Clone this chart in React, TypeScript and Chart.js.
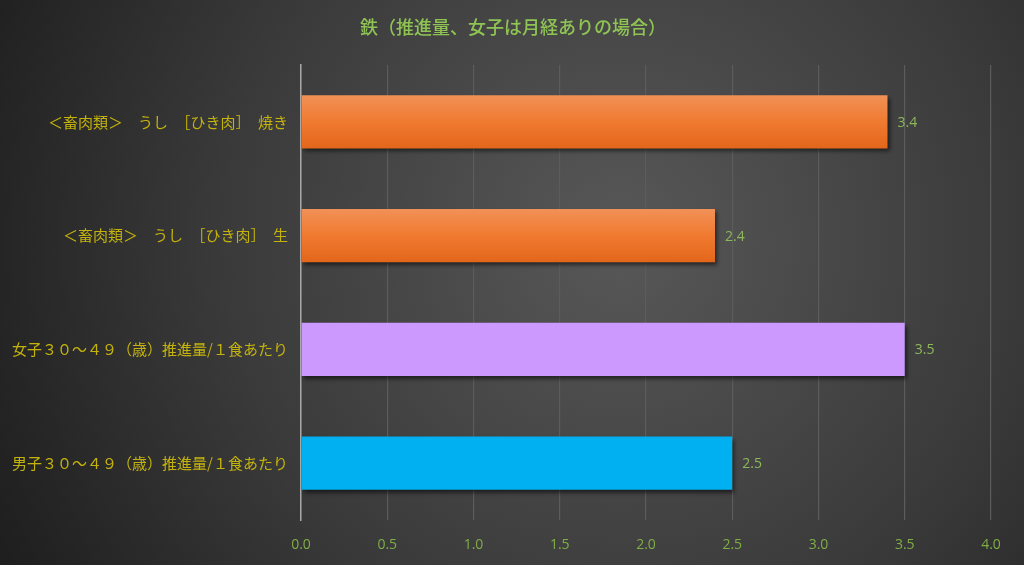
import React, { useEffect, useRef } from 'react';
import { Chart, registerables } from 'chart.js';

Chart.register(...registerables);

// ===== データ =====
const TITLE = '鉄（推進量、女子は月経ありの場合）';

const categories = [
  '＜畜肉類＞　うし　［ひき肉］　焼き',
  '＜畜肉類＞　うし　［ひき肉］　生',
  '女子３０～４９（歳）推進量/１食あたり',
  '男子３０～４９（歳）推進量/１食あたり',
];

const values = [3.4, 2.4, 3.5, 2.5];

// 'orange' はグラデーション塗り
const barColors = ['orange', 'orange', '#cc99ff', '#00b0f0'];

const xTicks = [0, 0.5, 1, 1.5, 2, 2.5, 3, 3.5, 4];

const JP_FONT = '"Noto Sans CJK JP", "Noto Sans", sans-serif';
const NUM_FONT = '"Open Sans", "Noto Sans", sans-serif';

// ===== プラグイン =====
const backgroundPlugin = {
  id: 'bgGradient',
  beforeDraw(chart: Chart) {
    const { ctx, width, height } = chart;
    const g = ctx.createRadialGradient(620, 240, 0, 620, 240, 720);
    g.addColorStop(0, '#585858');
    g.addColorStop(0.55, '#3a3a3a');
    g.addColorStop(1, '#1c1c1c');
    ctx.save();
    ctx.fillStyle = g;
    ctx.fillRect(0, 0, width, height);
    ctx.restore();
  },
};

const titlePlugin = {
  id: 'customTitle',
  afterDraw(chart: Chart) {
    const { ctx } = chart;
    ctx.save();
    ctx.font = `500 18px ${JP_FONT}`;
    ctx.fillStyle = '#8fc454';
    ctx.textAlign = 'center';
    ctx.textBaseline = 'middle';
    ctx.fillText(TITLE, 513, 27);
    ctx.restore();
  },
};

const shadowPlugin = {
  id: 'barShadow',
  beforeDatasetsDraw(chart: Chart) {
    const ctx = chart.ctx;
    ctx.save();
    ctx.shadowColor = 'rgba(0,0,0,0.55)';
    ctx.shadowBlur = 4;
    ctx.shadowOffsetX = 2;
    ctx.shadowOffsetY = 3;
  },
  afterDatasetsDraw(chart: Chart) {
    chart.ctx.restore();
  },
};

const valueLabelPlugin = {
  id: 'valueLabels',
  afterDatasetsDraw(chart: Chart) {
    const { ctx } = chart;
    const meta = chart.getDatasetMeta(0);
    ctx.save();
    ctx.font = `14px ${NUM_FONT}`;
    ctx.fillStyle = '#8db85a';
    ctx.textAlign = 'left';
    ctx.textBaseline = 'middle';
    meta.data.forEach((bar: any, i: number) => {
      ctx.fillText(values[i].toFixed(1), bar.x + 10, bar.y + 1);
    });
    ctx.restore();
  },
};

// ===== チャート =====
function IronChart() {
  const canvasRef = useRef<HTMLCanvasElement>(null);
  const chartRef = useRef<Chart | null>(null);

  useEffect(() => {
    if (chartRef.current) {
      chartRef.current.destroy();
      chartRef.current = null;
    }
    if (!canvasRef.current) return;
    const ctx = canvasRef.current.getContext('2d');
    if (!ctx) return;

    chartRef.current = new Chart(ctx, {
      type: 'bar',
      data: {
        labels: categories,
        datasets: [
          {
            data: values,
            backgroundColor: (c: any) => {
              const col = barColors[c.dataIndex];
              if (col !== 'orange') return col;
              const yScale = c.chart.scales?.y;
              if (!yScale || c.dataIndex === undefined) return '#ee7a30';
              const cy = yScale.getPixelForValue(c.dataIndex);
              if (!Number.isFinite(cy)) return '#ee7a30';
              const g = c.chart.ctx.createLinearGradient(0, cy - 27, 0, cy + 27);
              g.addColorStop(0, '#f19158');
              g.addColorStop(0.5, '#f07a30');
              g.addColorStop(1, '#e2661a');
              return g;
            },
            borderWidth: 0,
            categoryPercentage: 1,
            barPercentage: 0.466,
          },
        ],
      },
      options: {
        indexAxis: 'y',
        animation: false,
        responsive: false,
        layout: { padding: { left: 0, right: 33, top: 65, bottom: 0 } },
        plugins: {
          legend: { display: false },
          tooltip: { enabled: false },
          title: { display: false },
        },
        scales: {
          x: {
            min: 0,
            max: 4,
            afterBuildTicks: (scale: any) => {
              scale.ticks = xTicks.map(v => ({ value: v }));
            },
            afterFit: (scale: any) => {
              scale.height = 45;
            },
            grid: { color: '#5c5c5c', lineWidth: 1.2, drawTicks: false },
            border: { display: false },
            ticks: {
              color: '#7fae45',
              font: { family: NUM_FONT, size: 14 },
              padding: 17,
              callback: (v: any) => Number(v).toFixed(1),
            },
          },
          y: {
            afterFit: (scale: any) => {
              scale.width = 301;
            },
            grid: { display: false },
            border: { display: true, color: '#a8a8a8', width: 1.5 },
            ticks: {
              color: '#c4b30c',
              font: { family: JP_FONT, size: 15 },
              padding: 5,
            },
          },
        },
      },
      plugins: [backgroundPlugin, shadowPlugin, valueLabelPlugin, titlePlugin],
    } as any);

    return () => {
      if (chartRef.current) {
        chartRef.current.destroy();
        chartRef.current = null;
      }
    };
  }, []);

  return <canvas ref={canvasRef} width={1024} height={565} style={{ display: 'block' }} />;
}

export default function App() {
  return (
    <div style={{ position: 'fixed', left: 0, top: 0, width: 1024, height: 565, background: '#2a2a2a' }}>
      <IronChart />
    </div>
  );
}
